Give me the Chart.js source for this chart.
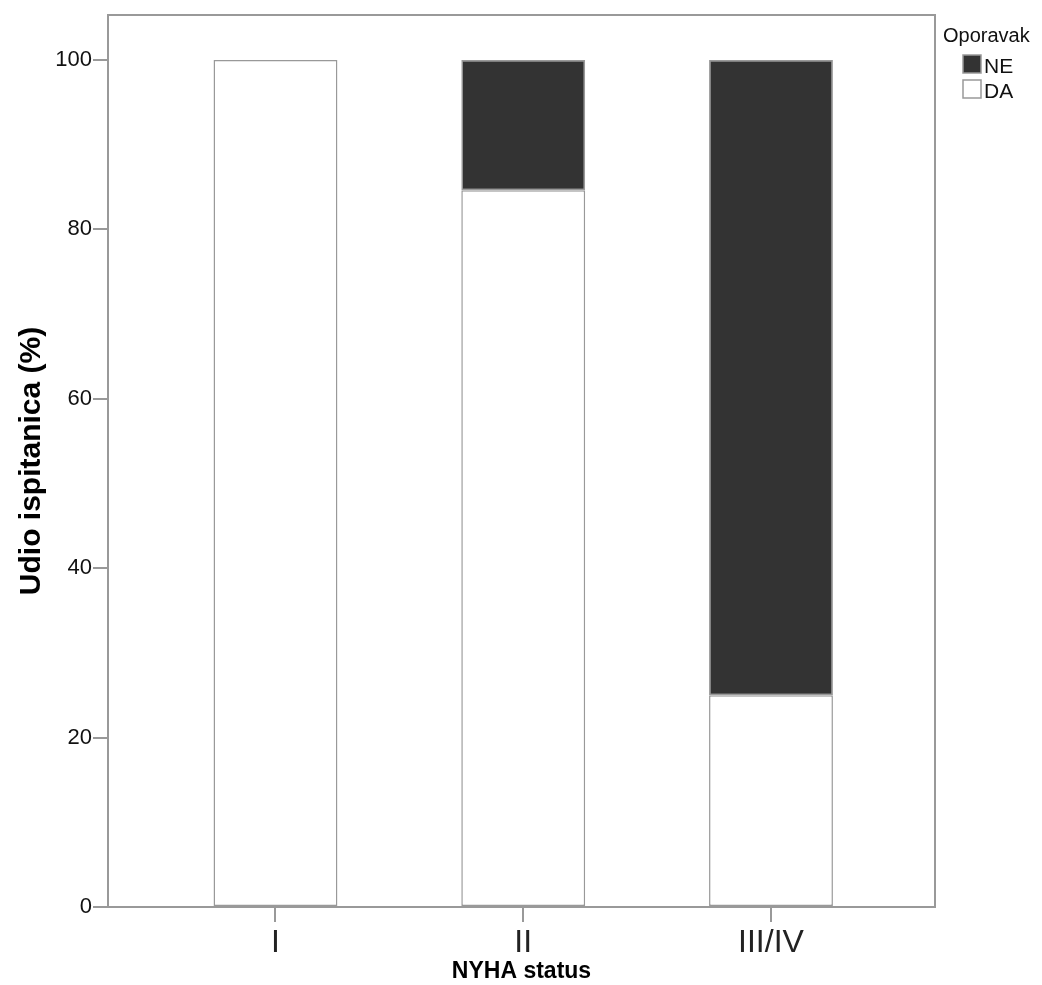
<!DOCTYPE html>
<html>
<head>
<meta charset="utf-8">
<script src="https://cdn.jsdelivr.net/npm/chart.js@4/dist/chart.umd.min.js"></script>
<style>
  html, body { margin: 0; padding: 0; background: #fff; }
  #wrap { width: 1042px; height: 985px; }
</style>
</head>
<body>
<div id="wrap"><canvas id="chart" width="1042" height="985"></canvas></div>
<script>
var categories = ['I', 'II', 'III/IV'];
var daValues = [100, 84.6, 25];
var neValues = [0, 15.4, 75];
var yTicks = [0, 20, 40, 60, 80, 100];

var legendTitle = 'Oporavak';
var frameColor = '#999999';
var fontFamily = '"Liberation Sans", Arial, sans-serif';

function toPoints(values) {
  var pts = [];
  for (var i = 0; i < values.length; i++) {
    pts.push({ x: i, y: values[i] });
  }
  return pts;
}

// top + right sides of the frame
var framePlugin = {
  id: 'frame',
  afterDraw: function(chart) {
    var a = chart.chartArea;
    var ctx = chart.ctx;
    ctx.save();
    ctx.strokeStyle = frameColor;
    ctx.lineWidth = 2;
    ctx.beginPath();
    ctx.moveTo(a.left, a.top);
    ctx.lineTo(a.right, a.top);
    ctx.lineTo(a.right, a.bottom);
    ctx.stroke();
    ctx.restore();
  }
};

// legend drawn to the right of the plot, NE first
var legendPlugin = {
  id: 'sideLegend',
  afterDraw: function(chart) {
    var ctx = chart.ctx;
    var x = chart.chartArea.right + 8;
    ctx.save();
    ctx.font = '20px ' + fontFamily;
    ctx.fillStyle = '#111';
    ctx.textBaseline = 'alphabetic';
    ctx.fillText(legendTitle, x, 42);
    var sets = chart.data.datasets.slice().reverse();
    for (var i = 0; i < sets.length; i++) {
      var top = 55 + i * 25;
      ctx.fillStyle = sets[i].backgroundColor;
      ctx.fillRect(x + 20, top, 18, 18);
      ctx.strokeStyle = frameColor;
      ctx.lineWidth = 1.5;
      ctx.strokeRect(x + 20, top, 18, 18);
      ctx.fillStyle = '#111';
      ctx.font = '21px ' + fontFamily;
      ctx.fillText(sets[i].label, x + 41, top + 18);
    }
    ctx.restore();
  }
};

var ctx = document.getElementById('chart').getContext('2d');

new Chart(ctx, {
  type: 'bar',
  data: {
    datasets: [{
      label: 'DA',
      data: toPoints(daValues),
      backgroundColor: '#ffffff',
      borderColor: frameColor,
      borderWidth: 1.5,
      borderSkipped: false,
      barPercentage: 0.5,
      categoryPercentage: 1
    }, {
      label: 'NE',
      data: toPoints(neValues),
      backgroundColor: '#333333',
      borderColor: frameColor,
      borderWidth: 1.5,
      borderSkipped: false,
      barPercentage: 0.5,
      categoryPercentage: 1
    }]
  },
  options: {
    responsive: false,
    animation: false,
    layout: {
      padding: { top: 15, right: 107, left: 0, bottom: 0 }
    },
    scales: {
      x: {
        type: 'linear',
        stacked: true,
        offset: false,
        min: -0.676,
        max: 2.662,
        afterBuildTicks: function(scale) {
          scale.ticks = categories.map(function(c, i) { return { value: i }; });
        },
        afterFit: function(scale) {
          scale.height = 78;
        },
        ticks: {
          callback: function(value) { return categories[value]; },
          font: { size: 32, family: fontFamily },
          color: '#222',
          padding: 2,
          maxRotation: 0
        },
        grid: {
          offset: false,
          drawOnChartArea: false,
          drawTicks: true,
          tickLength: 15,
          color: frameColor,
          lineWidth: 2
        },
        border: { display: true, color: frameColor, width: 2 },
        title: {
          display: true,
          text: 'NYHA status',
          font: { size: 23, weight: 'bold', family: fontFamily },
          color: '#000',
          padding: { top: 0, bottom: 0 }
        }
      },
      y: {
        stacked: true,
        min: 0,
        max: 105.3,
        afterBuildTicks: function(scale) {
          scale.ticks = yTicks.map(function(v) { return { value: v }; });
        },
        afterFit: function(scale) {
          scale.width = 108;
        },
        ticks: {
          font: { size: 22, family: fontFamily },
          color: '#111',
          padding: 1
        },
        grid: {
          drawOnChartArea: false,
          drawTicks: true,
          tickLength: 15,
          color: frameColor,
          lineWidth: 2
        },
        border: { display: true, color: frameColor, width: 2 },
        title: {
          display: true,
          text: 'Udio ispitanica (%)',
          font: { size: 30, weight: 'bold', family: fontFamily },
          color: '#000',
          padding: { top: 14, bottom: 0 }
        }
      }
    },
    plugins: {
      legend: { display: false },
      tooltip: { enabled: false }
    }
  },
  plugins: [framePlugin, legendPlugin]
});
</script>
</body>
</html>
